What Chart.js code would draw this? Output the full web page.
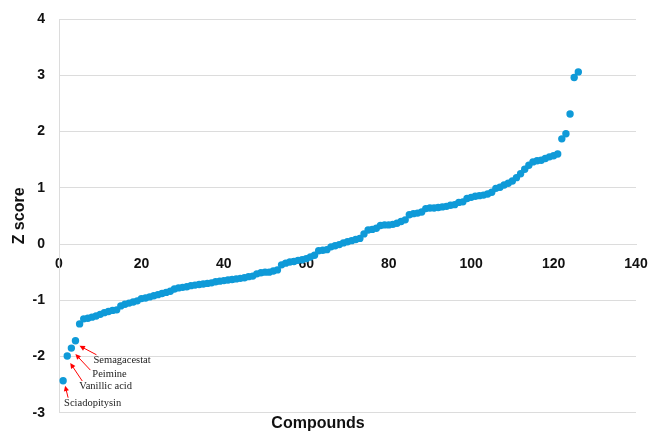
<!DOCTYPE html>
<html>
<head>
<meta charset="utf-8">
<script src="https://cdn.jsdelivr.net/npm/chart.js@4.4.1/dist/chart.umd.min.js"></script>
<style>
  html, body { margin: 0; padding: 0; background: #fff; }
  #wrap { width: 649px; height: 433px; position: relative; }
</style>
</head>
<body>
<div id="wrap"><canvas id="chart"></canvas></div>
<script>
// Z scores of the compounds, sorted ascending (compound rank 1..126)
var zScores = [
  -2.43, -1.99, -1.85, -1.72, -1.42, -1.33, -1.32, -1.30, -1.28, -1.25,
  -1.22, -1.20, -1.18, -1.17, -1.10, -1.07, -1.05, -1.03, -1.01, -0.97,
  -0.96, -0.94, -0.92, -0.90, -0.88, -0.86, -0.84, -0.80, -0.78, -0.77,
  -0.76, -0.74, -0.73, -0.72, -0.71, -0.70, -0.69, -0.67, -0.66, -0.65,
  -0.64, -0.63, -0.62, -0.61, -0.60, -0.58, -0.57, -0.53, -0.51, -0.50,
  -0.50, -0.48, -0.46, -0.37, -0.34, -0.32, -0.31, -0.29, -0.28, -0.26,
  -0.23, -0.20, -0.12, -0.11, -0.10, -0.05, -0.03, -0.01, 0.02, 0.04,
  0.06, 0.08, 0.10, 0.18, 0.25, 0.26, 0.28, 0.33, 0.34, 0.34,
  0.35, 0.37, 0.40, 0.43, 0.52, 0.54, 0.55, 0.57, 0.63, 0.64,
  0.64, 0.65, 0.66, 0.67, 0.69, 0.70, 0.74, 0.75, 0.81, 0.83,
  0.85, 0.86, 0.87, 0.89, 0.92, 0.99, 1.01, 1.05, 1.08, 1.12,
  1.18, 1.25, 1.33, 1.40, 1.46, 1.48, 1.49, 1.52, 1.55, 1.57,
  1.60, 1.87, 1.96, 2.31, 2.96, 3.06
];
var xTicks = [0, 20, 40, 60, 80, 100, 120, 140];
var yTicks = [-3, -2, -1, 0, 1, 2, 3, 4];
// labelled compounds (rank -> name)
var calloutRanks = [1, 2, 3, 4];
var calloutNames = ['Sciadopitysin', 'Vanillic acid', 'Peimine', 'Semagacestat'];

var POINT_COLOR = '#0f9ad8';
var GRID_COLOR = '#dcdcdc';
var BOLD_FONT = 'Liberation Sans, Arial, sans-serif';

var points = zScores.map(function (z, i) { return { x: i + 1, y: z }; });

// text offset (dx,dy), arrow tail and tip offsets, all relative to the point pixel
var CALLOUT_LAYOUT = [
  { tx: 1, ty: 23, ax: 5, ay: 17, bx: 2, by: 5 },
  { tx: 12, ty: 30, ax: 15, ay: 25, bx: 3, by: 7 },
  { tx: 21, ty: 26, ax: 19, ay: 22, bx: 4, by: 6 },
  { tx: 18, ty: 19, ax: 21, ay: 14, bx: 4, by: 5 }
];

function drawArrow(ctx, x0, y0, x1, y1) {
  var ang = Math.atan2(y1 - y0, x1 - x0);
  var head = 6;
  ctx.beginPath();
  ctx.moveTo(x0, y0);
  ctx.lineTo(x1 - Math.cos(ang) * head * 0.8, y1 - Math.sin(ang) * head * 0.8);
  ctx.stroke();
  ctx.beginPath();
  ctx.moveTo(x1, y1);
  ctx.lineTo(x1 - head * Math.cos(ang - 0.45), y1 - head * Math.sin(ang - 0.45));
  ctx.lineTo(x1 - head * Math.cos(ang + 0.45), y1 - head * Math.sin(ang + 0.45));
  ctx.closePath();
  ctx.fill();
}

var calloutPlugin = {
  id: 'callouts',
  afterDatasetsDraw: function (chart) {
    var ctx = chart.ctx;
    var xs = chart.scales.x, ys = chart.scales.y;
    ctx.save();
    ctx.strokeStyle = '#ff0000';
    ctx.fillStyle = '#ff0000';
    ctx.lineWidth = 1;
    calloutRanks.forEach(function (rank, k) {
      var px = xs.getPixelForValue(rank);
      var py = ys.getPixelForValue(zScores[rank - 1]);
      var L = CALLOUT_LAYOUT[k];
      drawArrow(ctx, px + L.ax, py + L.ay, px + L.bx, py + L.by);
    });
    ctx.fillStyle = '#222';
    ctx.font = '10.5px "Liberation Serif", "Times New Roman", serif';
    ctx.textAlign = 'left';
    ctx.textBaseline = 'middle';
    calloutRanks.forEach(function (rank, k) {
      var px = xs.getPixelForValue(rank);
      var py = ys.getPixelForValue(zScores[rank - 1]);
      var L = CALLOUT_LAYOUT[k];
      ctx.fillText(calloutNames[k], px + L.tx, py + L.ty);
    });
    ctx.restore();
  }
};

new Chart(document.getElementById('chart'), {
  type: 'scatter',
  data: {
    datasets: [{
      label: 'Z score',
      data: points,
      backgroundColor: POINT_COLOR,
      borderColor: POINT_COLOR,
      borderWidth: 0,
      pointRadius: 3.7,
      pointHoverRadius: 3.7
    }]
  },
  options: {
    responsive: true,
    maintainAspectRatio: false,
    animation: false,
    layout: { padding: { top: 19, right: 13, bottom: 0, left: 0 } },
    plugins: {
      legend: { display: false },
      tooltip: { enabled: false },
      title: {
        display: true,
        position: 'bottom',
        text: 'Compounds',
        color: '#111',
        font: { family: BOLD_FONT, size: 16, weight: 'bold' },
        padding: { top: 1, bottom: 0 }
      }
    },
    scales: {
      x: {
        type: 'linear',
        position: { y: 0 },
        min: 0,
        max: 140,
        afterBuildTicks: function (scale) {
          scale.ticks = xTicks.map(function (v) { return { value: v }; });
        },
        afterFit: function (scale) {
          scale.paddingLeft = 0;
          scale.paddingRight = 0;
        },
        grid: { display: false },
        border: { display: true, color: GRID_COLOR, width: 1 },
        ticks: {
          color: '#111',
          padding: 4,
          maxRotation: 0,
          font: { family: BOLD_FONT, size: 14, weight: 'bold' }
        }
      },
      y: {
        type: 'linear',
        min: -3,
        max: 4,
        afterBuildTicks: function (scale) {
          scale.ticks = yTicks.map(function (v) { return { value: v }; });
        },
        afterFit: function (scale) {
          scale.width = 59;
          scale.paddingTop = 0;
          scale.paddingBottom = 0;
        },
        grid: { color: GRID_COLOR, lineWidth: 1, drawTicks: false },
        border: { display: true, color: GRID_COLOR, width: 1 },
        ticks: {
          color: '#111',
          padding: 14,
          font: { family: BOLD_FONT, size: 14, weight: 'bold' }
        },
        title: {
          display: true,
          text: 'Z score',
          color: '#111',
          font: { family: BOLD_FONT, size: 16, weight: 'bold' },
          padding: { top: 10, bottom: 4 }
        }
      }
    }
  },
  plugins: [calloutPlugin]
});
</script>
</body>
</html>
